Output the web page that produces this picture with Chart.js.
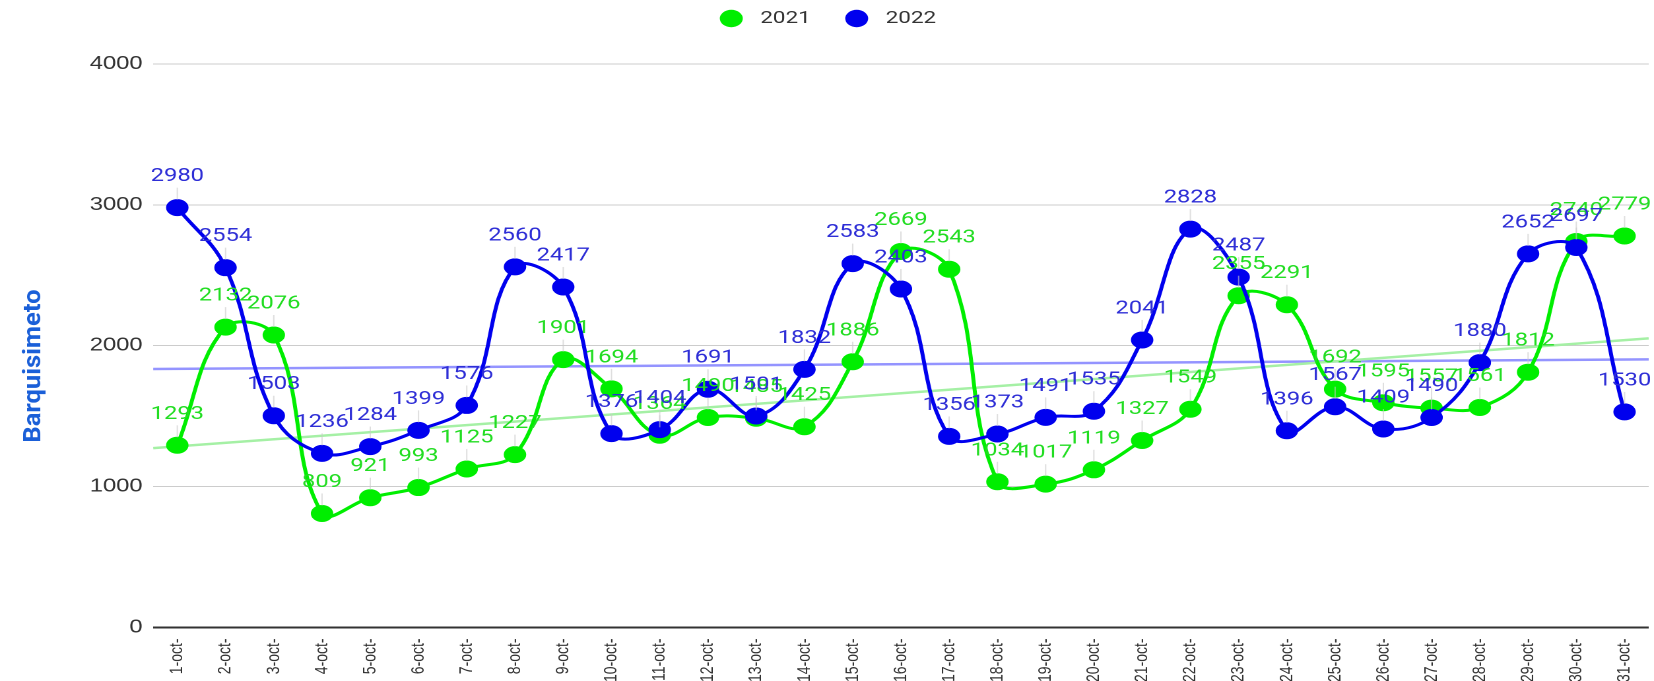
<!DOCTYPE html>
<html><head><meta charset="utf-8">
<script src="https://cdn.jsdelivr.net/npm/chart.js@4"></script>
<style>html,body{margin:0;padding:0;background:#fff;overflow:hidden;width:1654px;height:681px}
#wrap{width:1259px;height:681px;transform:scaleX(1.32);transform-origin:0 0}</style>
</head><body><div id="wrap"><canvas id="c"></canvas></div>
<script>
const categories = ["1-oct-","2-oct-","3-oct-","4-oct-","5-oct-","6-oct-","7-oct-","8-oct-","9-oct-","10-oct-","11-oct-","12-oct-","13-oct-","14-oct-","15-oct-","16-oct-","17-oct-","18-oct-","19-oct-","20-oct-","21-oct-","22-oct-","23-oct-","24-oct-","25-oct-","26-oct-","27-oct-","28-oct-","29-oct-","30-oct-","31-oct-"];
const values2021 = [1293,2132,2076,809,921,993,1125,1227,1901,1694,1364,1490,1485,1425,1886,2669,2543,1034,1017,1119,1327,1549,2355,2291,1692,1595,1557,1561,1812,2740,2779];
const values2022 = [2980,2554,1503,1236,1284,1399,1576,2560,2417,1376,1404,1691,1501,1832,2583,2403,1356,1373,1491,1535,2041,2828,2487,1396,1567,1409,1490,1880,2652,2697,1530];
const trend2021 = [1273,2052];
const trend2022 = [1835,1903];
const yTicks = [0,1000,2000,3000,4000];
const seriesNames = ["2021","2022"];
const yTitle = "Barquisimeto";

const GREEN = '#00ee00', BLUE = '#0000ee';
const toPts = arr => arr.map((v,i)=>({x:i,y:v}));
const trendPts = t => [{x:-0.5,y:t[0]},{x:categories.length-0.5,y:t[1]}];

const labelPlugin = {
  id:'valLabels',
  afterDatasetsDraw(chart){
    const ctx = chart.ctx;
    ctx.save();
    ctx.font = '18px Roboto, "Noto Sans", sans-serif';
    ctx.textAlign='center'; ctx.textBaseline='middle';
    chart.data.datasets.forEach((ds,di)=>{
      if(!ds.showLabels) return;
      const meta = chart.getDatasetMeta(di);
      meta.data.forEach((pt,i)=>{
        ctx.strokeStyle='rgba(200,200,200,0.6)'; ctx.lineWidth=1;
        ctx.beginPath(); ctx.moveTo(pt.x,pt.y-8); ctx.lineTo(pt.x,pt.y-20); ctx.stroke();
        ctx.fillStyle = ds.labelColor;
        ctx.fillText(String(ds.data[i].y), pt.x, pt.y-31);
      });
    });
    ctx.restore();
  }
};

const decorPlugin = {
  id:'decor',
  afterDraw(chart){
    const ctx = chart.ctx;
    ctx.save();
    ctx.translate(26, 366);
    ctx.rotate(-Math.PI/2);
    ctx.scale(1.42,1);
    ctx.font = 'bold 18px Roboto, "Noto Sans", sans-serif';
    ctx.fillStyle = '#1a5fd8';
    ctx.textAlign='center'; ctx.textBaseline='middle';
    ctx.fillText(yTitle,0,0);
    ctx.restore();
    ctx.save();
    const items = [{x:554,c:GREEN},{x:649,c:BLUE}];
    ctx.font = '17px Roboto, "Noto Sans", sans-serif';
    ctx.textBaseline='middle'; ctx.textAlign='left';
    items.forEach((it,i)=>{
      ctx.fillStyle = it.c;
      ctx.beginPath(); ctx.arc(it.x,18.5,8.7,0,Math.PI*2); ctx.fill();
      ctx.fillStyle = '#333';
      ctx.fillText(seriesNames[i], it.x+22, 18.5);
    });
    ctx.restore();
  }
};

new Chart(document.getElementById('c'),{
  type:'line',
  data:{datasets:[
    {label:seriesNames[0],data:toPts(values2021),borderColor:GREEN,backgroundColor:GREEN,borderWidth:3,pointRadius:7,pointBackgroundColor:GREEN,pointBorderColor:GREEN,tension:0.4,showLabels:true,labelColor:'#22dd22',order:2},
    {label:seriesNames[1],data:toPts(values2022),borderColor:BLUE,backgroundColor:BLUE,borderWidth:3,pointRadius:7,pointBackgroundColor:BLUE,pointBorderColor:BLUE,tension:0.4,showLabels:true,labelColor:'#2e2ed6',order:1},
    {label:'trend 2021',data:trendPts(trend2021),borderColor:'#a5f0a5',borderWidth:2.5,pointRadius:0,tension:0,order:3},
    {label:'trend 2022',data:trendPts(trend2022),borderColor:'#9494ff',borderWidth:2.5,pointRadius:0,tension:0,order:3}
  ]},
  options:{
    responsive:true,maintainAspectRatio:false,animation:false,devicePixelRatio:2,
    layout:{padding:{left:60,right:0,top:64,bottom:-4}},
    plugins:{legend:{display:false},tooltip:{enabled:false}},
    scales:{
      x:{type:'linear',min:-0.5,max:categories.length-0.5,
        afterBuildTicks:a=>{a.ticks=categories.map((_,i)=>({value:i}));},
        afterFit:s=>{s.paddingRight=0;s.paddingLeft=0;},
        grid:{display:false},border:{display:false},
        ticks:{autoSkip:false,minRotation:90,maxRotation:90,padding:3,color:'#333',font:{size:14,family:'"Liberation Sans Narrow", "Liberation Sans", sans-serif'},callback:v=>categories[v]??''}},
      y:{min:0,max:4000,
        afterBuildTicks:a=>{a.ticks=yTicks.map(v=>({value:v}));},
        grid:{color:c=>c.tick.value===0?'#333':'#cccccc',lineWidth:c=>c.tick.value===0?2:1,drawTicks:false},
        border:{display:false},
        ticks:{padding:8,color:'#333',font:{size:18,family:'"Liberation Sans", Arial, sans-serif'},callback:v=>String(v)}}
    }
  },
  plugins:[labelPlugin,decorPlugin]
});
</script></body></html>
